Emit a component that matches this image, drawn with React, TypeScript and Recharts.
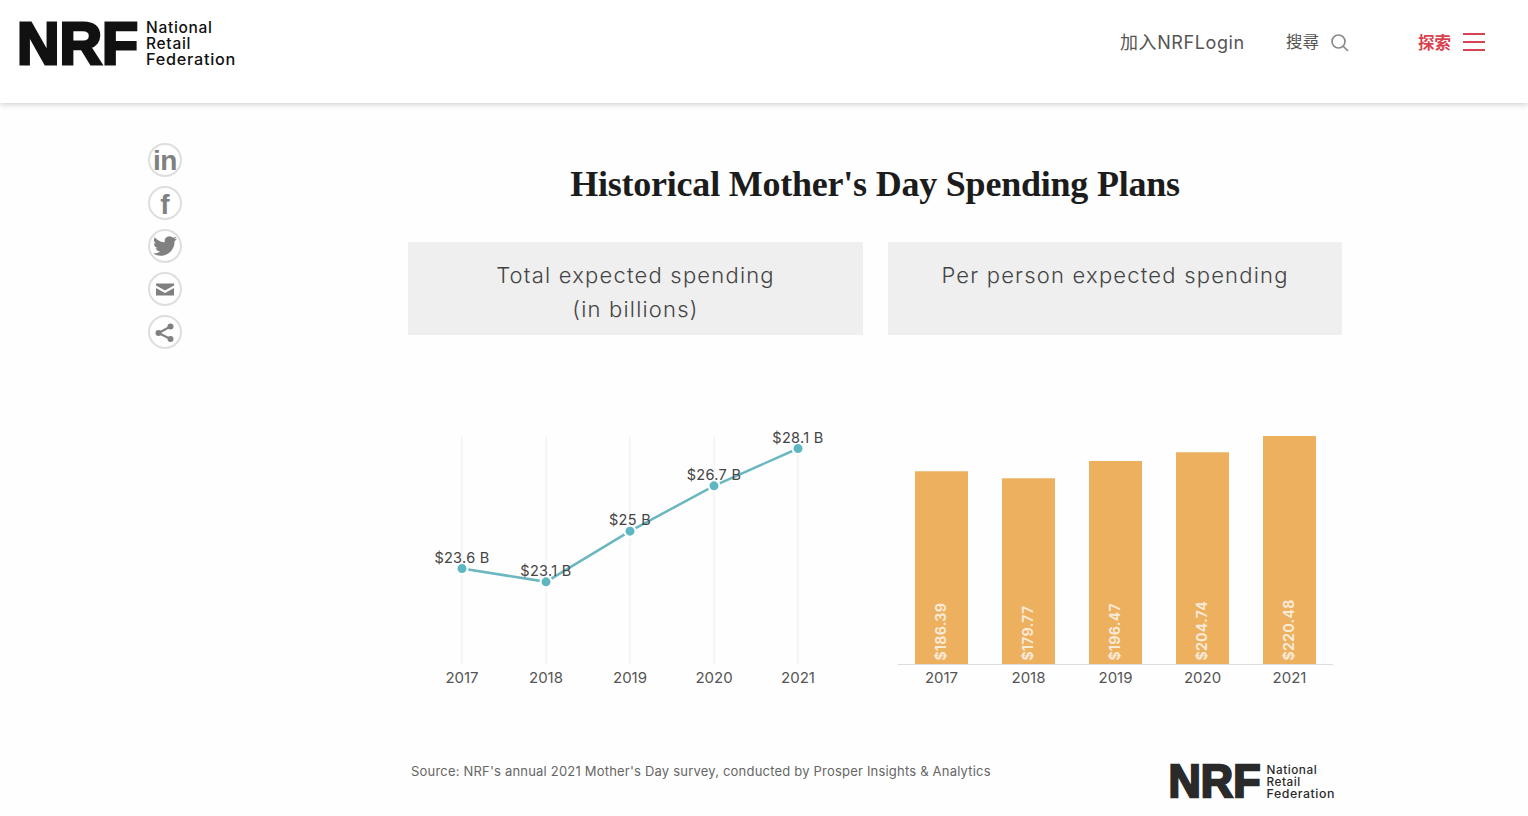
import { Bar, BarChart, CartesianGrid, LabelList, Line, LineChart, XAxis, YAxis } from 'recharts';

const years = ['2017', '2018', '2019', '2020', '2021'];
const totalSpending = [23.6, 23.1, 25, 26.7, 28.1];
const totalLabels = ['$23.6 B', '$23.1 B', '$25 B', '$26.7 B', '$28.1 B'];
const perPerson = [186.39, 179.77, 196.47, 204.74, 220.48];
const perPersonLabels = ['$186.39', '$179.77', '$196.47', '$204.74', '$220.48'];

const totalData = years.map((year, i) => ({ year, value: totalSpending[i], label: totalLabels[i] }));
const perPersonData = years.map((year, i) => ({ year, value: perPerson[i], label: perPersonLabels[i] }));

const FONT = 'Inter, "Noto Sans CJK SC", sans-serif';
const TEAL = '#5db6c1';
const ORANGE = '#edb05f';

const abs = (left: number, top: number, extra: React.CSSProperties = {}): React.CSSProperties => ({
  position: 'absolute',
  left,
  top,
  whiteSpace: 'nowrap',
  ...extra,
});

function Logo({ x, y, scale, color }: { x: number; y: number; scale: number; color: string }) {
  return (
    <svg style={abs(x - 4 * scale, y - 14 * scale)} width={232 * scale} height={76 * scale} viewBox="-4 -14 232 76">
      <text x={-2} y={44} fontFamily="Liberation Sans" fontWeight={700} fontSize={60} fill={color} stroke={color} strokeWidth={3} textLength={121} lengthAdjust="spacingAndGlyphs">
        NRF
      </text>
      <g fontFamily={FONT} fontWeight={500} fontSize={15.5} letterSpacing={0.7} fill={color}>
        <text x={127} y={13}>National</text>
        <text x={127} y={29}>Retail</text>
        <text x={127} y={45} textLength={90} lengthAdjust="spacingAndGlyphs">Federation</text>
      </g>
    </svg>
  );
}

function Header() {
  return (
    <div style={abs(0, 0, { width: 1528, height: 103, background: '#fff', boxShadow: '0 1px 6px rgba(0,0,0,0.22)' })}>
      <Logo x={19} y={20} scale={1} color="#111" />
      <div style={abs(1120, 32, { fontFamily: FONT, fontSize: 18, letterSpacing: 0.6, color: '#555', lineHeight: '22px' })}>加入NRFLogin</div>
      <div style={abs(1286, 30, { fontFamily: '"Noto Sans CJK TC"', fontSize: 16.5, color: '#555', lineHeight: '22px' })}>搜尋</div>
      <svg style={abs(1330, 33)} width={20} height={20} viewBox="0 0 20 20" fill="none" stroke="#8a8a8a" strokeWidth={1.7}>
        <circle cx={8.5} cy={8.5} r={6.5} />
        <path d="M13.3 13.3 L18 18" />
      </svg>
      <div style={abs(1418, 32, { fontFamily: FONT, fontWeight: 700, fontSize: 16.5, color: '#d8434f', lineHeight: '22px' })}>探索</div>
      <svg style={abs(1463, 32)} width={23} height={20} viewBox="0 0 23 20" stroke="#d8434f" strokeWidth={2.2}>
        <path d="M0 2 H22 M0 10 H22 M0 18 H22" />
      </svg>
    </div>
  );
}

function SocialIcons() {
  const centers = [160, 203, 246, 289, 332];
  return (
    <svg style={abs(140, 135)} width={50} height={225} viewBox="140 135 50 225">
      {centers.map((cy) => (
        <circle key={cy} cx={165} cy={cy} r={16} fill="#fff" stroke="#dedede" strokeWidth={2} />
      ))}
      <g fill="#808080">
        <text x={165} y={170} textAnchor="middle" fontFamily="Liberation Sans" fontWeight={700} fontSize={28} letterSpacing={-0.5}>in</text>
        <text x={165} y={214} textAnchor="middle" fontFamily="Liberation Sans" fontWeight={700} fontSize={28}>f</text>
        <path
          transform="translate(153 234)"
          d="M23.953 4.57a10 10 0 01-2.825.775 4.958 4.958 0 002.163-2.723c-.951.555-2.005.959-3.127 1.184a4.92 4.92 0 00-8.384 4.482C7.69 8.095 4.067 6.13 1.64 3.162a4.822 4.822 0 00-.666 2.475c0 1.71.87 3.213 2.188 4.096a4.904 4.904 0 01-2.228-.616v.06a4.923 4.923 0 003.946 4.827 4.996 4.996 0 01-2.212.085 4.936 4.936 0 004.604 3.417 9.867 9.867 0 01-6.102 2.105c-.39 0-.779-.023-1.17-.067a13.995 13.995 0 007.557 2.209c9.053 0 13.998-7.496 13.998-13.985 0-.21 0-.42-.015-.63A9.935 9.935 0 0024 4.59z"
        />
        <path d="M156 283.5 H174 V285.5 L165 290.5 L156 285.5 Z M156 288 L165 293 L174 288 V295.5 H156 Z" />
        <circle cx={158.5} cy={333} r={3} />
        <circle cx={170.5} cy={326.5} r={3} />
        <circle cx={170.5} cy={339} r={3} />
      </g>
      <path d="M158.5 333 L170.5 326.5 M158.5 333 L170.5 339" stroke="#808080" strokeWidth={2} fill="none" />
    </svg>
  );
}

function Panel({ left, width, lines }: { left: number; width: number; lines: string[] }) {
  return (
    <div
      style={abs(left, 242, {
        width,
        height: 93,
        background: '#efefef',
        textAlign: 'center',
        fontFamily: FONT,
        fontWeight: 300,
        fontSize: 22,
        letterSpacing: 1.2,
        lineHeight: '34px',
        color: '#444',
        paddingTop: 16,
        boxSizing: 'border-box',
      })}
    >
      {lines.map((line) => (
        <div key={line}>{line}</div>
      ))}
    </div>
  );
}

function TotalChart() {
  return (
    <div style={abs(408, 420)}>
      <LineChart width={440} height={280} data={totalData} margin={{ top: 16.5, right: 50, bottom: 5.5, left: 54 }}>
        <CartesianGrid horizontal={false} stroke="#eeeeee" />
        <XAxis dataKey="year" axisLine={false} tickLine={false} height={30} tickMargin={2} tick={{ fontFamily: FONT, fontSize: 15, fill: '#555' }} />
        <YAxis hide domain={[20, 28.55]} />
        <Line
          dataKey="value"
          stroke="#6ab7bf"
          strokeWidth={2.5}
          dot={{ r: 5.5, fill: TEAL, stroke: '#fff', strokeWidth: 2, fillOpacity: 1 }}
          isAnimationActive={false}
        >
          <LabelList dataKey="label" position="top" offset={6} style={{ fontFamily: FONT, fontSize: 14.5, letterSpacing: 0.3, fill: '#444' }} />
        </Line>
      </LineChart>
    </div>
  );
}

function VerticalLabel(props: any) {
  const { x, y, width, height, value } = props;
  const cx = x + width / 2 - 1.5;
  const base = y + height - 4;
  return (
    <text
      x={cx}
      y={base}
      transform={`rotate(-90 ${cx} ${base})`}
      dominantBaseline="central"
      fontFamily={FONT}
      fontWeight={700}
      fontSize={14}
      letterSpacing={0.3}
      fill="#fff"
      fillOpacity={0.75}
    >
      {value}
    </text>
  );
}

function PerPersonChart() {
  return (
    <div style={abs(888, 420)}>
      <BarChart width={454} height={280} data={perPersonData} margin={{ top: 16, right: 9, bottom: 5.5, left: 10 }}>
        <XAxis
          dataKey="year"
          axisLine={{ stroke: '#dddddd' }}
          tickLine={false}
          height={30}
          tickMargin={2}
          tick={{ fontFamily: FONT, fontSize: 15, fill: '#555' }}
        />
        <YAxis hide domain={[0, 220.48]} />
        <Bar dataKey="value" fill={ORANGE} barSize={53} isAnimationActive={false}>
          <LabelList dataKey="label" content={VerticalLabel} />
        </Bar>
      </BarChart>
    </div>
  );
}

export default function App() {
  return (
    <div style={abs(0, 0, { width: 1528, height: 816, background: '#fefefe', overflow: 'hidden' })}>
      <Header />
      <SocialIcons />
      <div
        style={abs(408, 162, {
          width: 934,
          textAlign: 'center',
          fontFamily: '"Liberation Serif", serif',
          fontWeight: 700,
          fontSize: 36,
          letterSpacing: -0.22,
          lineHeight: '44px',
          color: '#1c1c1c',
        })}
      >
        Historical Mother's Day Spending Plans
      </div>
      <Panel left={408} width={455} lines={['Total expected spending', '(in billions)']} />
      <Panel left={888} width={454} lines={['Per person expected spending']} />
      <TotalChart />
      <PerPersonChart />
      <div style={abs(411, 762, { fontFamily: FONT, fontSize: 13, letterSpacing: 0.2, lineHeight: '18px', color: '#666' })}>
        Source: NRF's annual 2021 Mother's Day survey, conducted by Prosper Insights &amp; Analytics
      </div>
      <Logo x={1170} y={764} scale={0.76} color="#2a2a2a" />
    </div>
  );
}
